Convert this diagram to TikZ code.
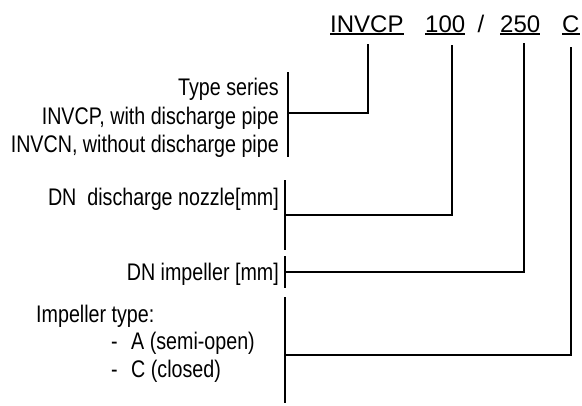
\documentclass[tikz,border=0pt]{standalone}
\usepackage{fontspec}
\setmainfont{Liberation Sans}
\newfontfamily\narrowfont{Liberation Sans}[FakeStretch=0.82]
\begin{document}
\begin{tikzpicture}[x=1pt,y=-1pt,
  code/.style={inner sep=0pt,anchor=base west,font=\fontsize{24}{28}\selectfont},
  lbl/.style={inner sep=0pt,anchor=base east,font=\narrowfont\fontsize{24}{28}\selectfont},
  lbll/.style={inner sep=0pt,anchor=base west,font=\narrowfont\fontsize{24}{28}\selectfont},
  wire/.style={line width=1.7pt},
  bar/.style={line width=1.9pt},
  ul/.style={line width=1.3pt}]
\useasboundingbox (0,0) rectangle (582,405);
% code row
\node[code] (invcp) at (330,32) {INVCP};
\node[code] (n100) at (425,32) {100};
\node[code] (slash) at (477.5,32) {/};
\node[code] (n250) at (500,32) {250};
\node[code] (nC) at (562,32) {C};
\foreach \n in {invcp,n100,n250,nC}
  \draw[ul] ([yshift=-2pt]\n.base west) -- ([yshift=-2pt]\n.base east);
% labels
\node[lbl] (ts1) at (279,95) {Type series};
\node[lbl] (ts2) at (279,124) {INVCP, with discharge pipe};
\node[lbl] (ts3) at (279,152) {INVCN, without discharge pipe};
\node[lbl] (dn1) at (279,205) {DN\ \ discharge nozzle[mm]};
\node[lbl] (dn2) at (279,280) {DN impeller [mm]};
\node[lbll] (it1) at (36,322) {Impeller type:};
\node[lbll] (it2) at (111,349) {\makebox[20pt][l]{-}A (semi-open)};
\node[lbll] (it3) at (111,377) {\makebox[20pt][l]{-}C (closed)};
% bars
\coordinate (b1t) at (288,72);  \coordinate (b1b) at (288,157); \coordinate (j1) at (288,113);
\coordinate (b2t) at (285,180); \coordinate (b2b) at (285,250); \coordinate (j2) at (285,215);
\coordinate (b3t) at (285,256); \coordinate (b3b) at (285,288); \coordinate (j3) at (285,272);
\coordinate (b4t) at (285,297); \coordinate (b4b) at (285,403); \coordinate (j4) at (285,355);
\draw[bar] (b1t) -- (b1b);
\draw[bar] (b2t) -- (b2b);
\draw[bar] (b3t) -- (b3b);
\draw[bar] (b4t) -- (b4b);
% connectors
\coordinate (t1) at (368,44);
\coordinate (t2) at (452,45);
\coordinate (t3) at (524,43);
\coordinate (t4) at (571,47);
\draw[wire] (t1) |- (j1);
\draw[wire] (t2) |- (j2);
\draw[wire] (t3) |- (j3);
\draw[wire] (t4) |- (j4);
\end{tikzpicture}
\end{document}
